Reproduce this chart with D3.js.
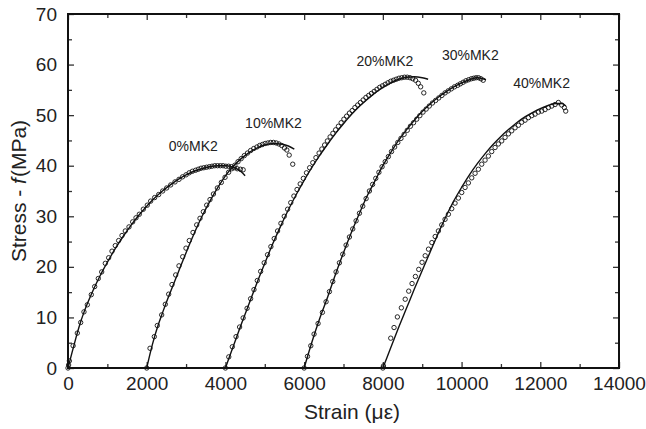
<!DOCTYPE html>
<html>
<head>
<meta charset="utf-8">
<script src="https://cdn.jsdelivr.net/npm/d3@7"></script>
<style>
  html, body { margin: 0; padding: 0; background: #fff; }
  svg { display: block; font-family: "Liberation Sans", Arial, Helvetica, sans-serif; }
</style>
</head>
<body>
<svg id="chart" width="646" height="429"></svg>
<script>
// Stress-strain curves of MK2 mixes: fitted model (lines) and test data (circles).
// Each mix is shifted along the strain axis by 2000 µε for readability.

const seriesNames = ["0%MK2", "10%MK2", "20%MK2", "30%MK2", "40%MK2"];

// [strain (µε), stress (MPa)] – fitted model
const fit0 = [[0,0],[100,3.0],[200,5.9],[300,8.6],[400,10.9],[500,12.9],[600,14.7],[700,16.4],[800,18.0],[900,19.5],[1000,20.9],[1200,23.6],[1400,26.0],[1600,28.2],[1800,30.2],[2000,32.0],[2200,33.6],[2400,35.0],[2600,36.2],[2800,37.3],[3000,38.2],[3200,38.9],[3400,39.4],[3600,39.8],[3800,40.0],[4000,40.0],[4200,39.7],[4400,38.8],[4500,38.0]];
const fit10 = [[2000,0],[2100,3.3],[2200,6.2],[2300,8.7],[2400,10.9],[2500,13.0],[2600,15.0],[2800,18.9],[3000,22.8],[3200,26.5],[3400,29.9],[3600,32.9],[3800,35.6],[4000,38.0],[4200,39.9],[4400,41.4],[4600,42.6],[4800,43.5],[5000,44.1],[5200,44.4],[5400,44.3],[5600,43.9],[5750,43.3]];
const fit20 = [[4000,0],[4200,4.3],[4400,8.6],[4600,12.7],[4800,16.8],[5000,20.7],[5200,24.5],[5400,28.0],[5600,31.3],[5800,34.3],[6000,37.1],[6200,39.7],[6400,42.1],[6600,44.3],[6800,46.4],[7000,48.3],[7200,50.1],[7400,51.7],[7600,53.1],[7800,54.4],[8000,55.5],[8200,56.4],[8400,57.1],[8600,57.5],[8800,57.6],[9000,57.4],[9150,57.1]];
const fit30 = [[6000,0],[6200,5.2],[6400,9.9],[6600,14.1],[6800,18.6],[7000,22.8],[7200,26.8],[7400,30.5],[7600,34.0],[7800,37.0],[8000,40.0],[8200,42.6],[8400,45.0],[8600,47.1],[8800,49.0],[9000,50.7],[9200,52.2],[9400,53.5],[9600,54.6],[9800,55.6],[10000,56.4],[10200,57.0],[10400,57.4],[10620,57.0]];
const fit40 = [[8000,0],[8200,4.0],[8400,8.0],[8600,11.8],[8800,15.6],[9000,19.3],[9200,22.9],[9400,26.5],[9600,29.9],[9800,33.0],[10000,35.7],[10200,38.2],[10400,40.4],[10600,42.4],[10800,44.2],[11000,45.8],[11200,47.2],[11400,48.5],[11600,49.6],[11800,50.5],[12000,51.3],[12200,51.9],[12400,52.3],[12550,52.3],[12650,51.8]];

// [strain (µε), stress (MPa)] – measured
const test0 = [[0,0],[15,0.6],[35,1.4],[130,4.4],[237,6.9],[322,9.0],[406,11.1],[491,12.5],[592,14.5],[678,16.1],[770,17.7],[856,19.0],[948,20.7],[1033,21.8],[1118,23.1],[1202,24.2],[1287,25.2],[1372,26.2],[1456,27.1],[1550,27.9],[1643,28.9],[1728,29.7],[1812,30.4],[1914,31.4],[2015,32.2],[2100,33.0],[2202,33.7],[2304,34.3],[2406,35.0],[2507,35.6],[2609,36.2],[2719,36.8],[2820,37.3],[2910,37.8],[3000,38.2],[3080,38.6],[3160,38.9],[3240,39.1],[3310,39.3],[3380,39.5],[3450,39.6],[3520,39.7],[3590,39.8],[3660,39.9],[3730,40.0],[3800,40.0],[3870,40.0],[3940,40.0],[4010,39.9],[4080,39.9],[4150,39.8],[4220,39.6],[4300,39.4],[4380,39.3],[4450,39.2]];
const test10 = [[2000,0],[2084,3.9],[2193,6.2],[2269,8.4],[2380,10.5],[2473,12.6],[2558,14.6],[2642,16.5],[2736,18.4],[2820,20.2],[2914,22.0],[2998,23.7],[3082,25.2],[3176,26.8],[3270,28.3],[3354,29.6],[3439,30.9],[3524,32.2],[3608,33.3],[3695,34.4],[3795,35.6],[3896,36.7],[3990,37.7],[4080,38.7],[4160,39.4],[4240,40.1],[4320,40.8],[4400,41.4],[4480,42.0],[4560,42.5],[4640,43.0],[4720,43.4],[4800,43.7],[4870,44.0],[4940,44.2],[5010,44.4],[5080,44.5],[5150,44.6],[5220,44.6],[5290,44.5],[5360,44.3],[5430,44.0],[5500,43.5],[5560,43.1],[5620,42.1],[5710,40.3]];
const test20 = [[4000,0],[4085,2.2],[4175,4.2],[4270,6.2],[4360,8.1],[4450,9.9],[4550,11.8],[4640,13.7],[4725,15.5],[4810,17.3],[4895,19.1],[4985,20.8],[5070,22.4],[5155,24.0],[5240,25.6],[5325,27.1],[5410,28.6],[5495,30.0],[5580,31.4],[5660,32.7],[5740,34.0],[5820,35.3],[5900,36.4],[5980,37.5],[6060,38.6],[6140,39.6],[6220,40.6],[6300,41.6],[6380,42.5],[6450,43.3],[6520,44.1],[6590,44.9],[6660,45.7],[6730,46.4],[6800,47.1],[6870,47.8],[6940,48.5],[7010,49.2],[7080,49.8],[7150,50.4],[7220,50.9],[7290,51.5],[7360,52.0],[7430,52.5],[7500,53.0],[7570,53.5],[7640,53.9],[7710,54.3],[7780,54.7],[7850,55.1],[7920,55.5],[7990,55.8],[8060,56.1],[8130,56.4],[8200,56.7],[8270,56.9],[8340,57.1],[8410,57.3],[8480,57.4],[8550,57.5],[8620,57.5],[8690,57.4],[8760,57.2],[8830,56.9],[8900,56.3],[8960,55.6],[9040,54.4]];
const test30 = [[6000,0],[6085,2.3],[6169,4.4],[6252,6.7],[6354,8.8],[6464,11.0],[6557,13.1],[6642,15.1],[6727,17.1],[6811,19.0],[6896,20.8],[6981,22.5],[7066,24.3],[7150,25.9],[7235,27.5],[7320,29.1],[7405,30.6],[7489,32.0],[7574,33.5],[7658,35.0],[7740,36.3],[7820,37.5],[7900,38.7],[7980,39.8],[8060,40.8],[8140,41.8],[8220,42.8],[8300,43.7],[8380,44.6],[8460,45.4],[8540,46.2],[8620,47.0],[8700,47.8],[8780,48.5],[8860,49.2],[8940,49.9],[9020,50.6],[9100,51.2],[9180,51.8],[9260,52.4],[9340,52.9],[9420,53.4],[9500,53.9],[9580,54.4],[9660,54.8],[9740,55.2],[9820,55.6],[9900,55.9],[9970,56.2],[10040,56.5],[10110,56.8],[10180,57.0],[10250,57.2],[10310,57.3],[10370,57.4],[10430,57.4],[10490,57.2],[10550,56.9]];
const test40 = [[8000,0],[8015,0.4],[8200,5.9],[8284,8.0],[8369,10.1],[8470,11.9],[8568,13.6],[8657,15.2],[8742,16.7],[8827,18.1],[8912,19.5],[8996,20.9],[9076,22.2],[9160,23.5],[9245,24.8],[9330,26.0],[9411,27.1],[9496,28.3],[9580,29.4],[9665,30.4],[9750,31.5],[9834,32.6],[9919,33.6],[10004,34.7],[10089,35.7],[10173,36.6],[10258,37.6],[10343,38.5],[10427,39.3],[10512,40.3],[10597,41.1],[10681,41.9],[10766,42.8],[10851,43.6],[10935,44.3],[11020,44.9],[11105,45.6],[11190,46.3],[11274,46.9],[11359,47.5],[11444,48.0],[11528,48.6],[11613,49.0],[11698,49.5],[11783,49.9],[11867,50.2],[11952,50.6],[12037,50.8],[12121,51.1],[12206,51.5],[12291,51.8],[12375,52.1],[12460,52.5],[12545,52.0],[12612,51.5],[12646,50.8]];

// label anchor (text start, baseline) for each mix: [strain, stress]
const labelAt = [[2560,42.9],[4500,47.5],[7330,59.7],[9500,60.9],[11310,55.3]];

const xTicks = [0, 2000, 4000, 6000, 8000, 10000, 12000, 14000];
const xMinor = [1000, 3000, 5000, 7000, 9000, 11000, 13000];
const yTicks = [0, 10, 20, 30, 40, 50, 60, 70];
const yMinor = [5, 15, 25, 35, 45, 55, 65];

const fits = [fit0, fit10, fit20, fit30, fit40];
const tests = [test0, test10, test20, test30, test40];

const svg = d3.select("#chart");
const L = 68, T = 14, R = 619, B = 368;

const x = d3.scaleLinear().domain([0, 14000]).range([L, R]);
const y = d3.scaleLinear().domain([0, 70]).range([B, T]);

const ink = "#111";
const tickInk = "#333";

// axes with inward ticks on all four sides
svg.append("g").attr("transform", `translate(0,${B})`)
  .call(d3.axisBottom(x).tickValues(xTicks).tickSize(-6).tickPadding(9).tickFormat(d3.format("d")));
svg.append("g").attr("transform", `translate(0,${B})`)
  .call(d3.axisBottom(x).tickValues(xMinor).tickSize(-4).tickFormat(""));
svg.append("g").attr("transform", `translate(0,${T})`)
  .call(d3.axisTop(x).tickValues(xTicks).tickSize(-6).tickFormat(""));
svg.append("g").attr("transform", `translate(0,${T})`)
  .call(d3.axisTop(x).tickValues(xMinor).tickSize(-4).tickFormat(""));
svg.append("g").attr("transform", `translate(${L},0)`)
  .call(d3.axisLeft(y).tickValues(yTicks).tickSize(-6).tickPadding(11));
svg.append("g").attr("transform", `translate(${L},0)`)
  .call(d3.axisLeft(y).tickValues(yMinor).tickSize(-4).tickFormat(""));
svg.append("g").attr("transform", `translate(${R},0)`)
  .call(d3.axisRight(y).tickValues(yTicks).tickSize(-6).tickFormat(""));
svg.append("g").attr("transform", `translate(${R},0)`)
  .call(d3.axisRight(y).tickValues(yMinor).tickSize(-4).tickFormat(""));

svg.selectAll(".domain").remove();
svg.selectAll(".tick line").attr("stroke", tickInk).attr("stroke-width", 1.3);
svg.selectAll(".tick text")
  .attr("fill", "#222")
  .style("font-size", "19px")
  .style("font-family", '"Liberation Sans", Arial, sans-serif');

// curves
const line = d3.line()
  .x(d => x(d[0]))
  .y(d => y(d[1]))
  .curve(d3.curveMonotoneX);

const plot = svg.append("g");
plot.selectAll("path.fit")
  .data(fits)
  .join("path")
  .attr("class", "fit")
  .attr("d", line)
  .attr("fill", "none")
  .attr("stroke", ink)
  .attr("stroke-width", 1.4);

tests.forEach(pts => {
  plot.append("g")
    .selectAll("circle")
    .data(pts)
    .join("circle")
    .attr("cx", d => x(d[0]))
    .attr("cy", d => y(d[1]))
    .attr("r", 2.2)
    .attr("fill", "none")
    .attr("stroke", ink)
    .attr("stroke-width", 0.9);
});

// series labels
svg.append("g")
  .selectAll("text")
  .data(seriesNames)
  .join("text")
  .attr("x", (d, i) => x(labelAt[i][0]))
  .attr("y", (d, i) => y(labelAt[i][1]))
  .attr("fill", "#222")
  .style("font-size", "14px")
  .text(d => d);

// frame
svg.append("rect")
  .attr("x", L).attr("y", T)
  .attr("width", R - L).attr("height", B - T)
  .attr("fill", "none")
  .attr("stroke", ink)
  .attr("stroke-width", 2);

// axis titles
svg.append("text")
  .attr("x", 352).attr("y", 419)
  .attr("text-anchor", "middle")
  .attr("fill", "#222")
  .style("font-size", "21px")
  .text("Strain (με)");

const yTitle = svg.append("text")
  .attr("transform", "translate(26,191) rotate(-90)")
  .attr("text-anchor", "middle")
  .attr("fill", "#222")
  .style("font-size", "21px");
yTitle.append("tspan").text("Stress - ");
yTitle.append("tspan").style("font-style", "italic").text("f");
yTitle.append("tspan").attr("dx", 1).text("(MPa)");
</script>
</body>
</html>
